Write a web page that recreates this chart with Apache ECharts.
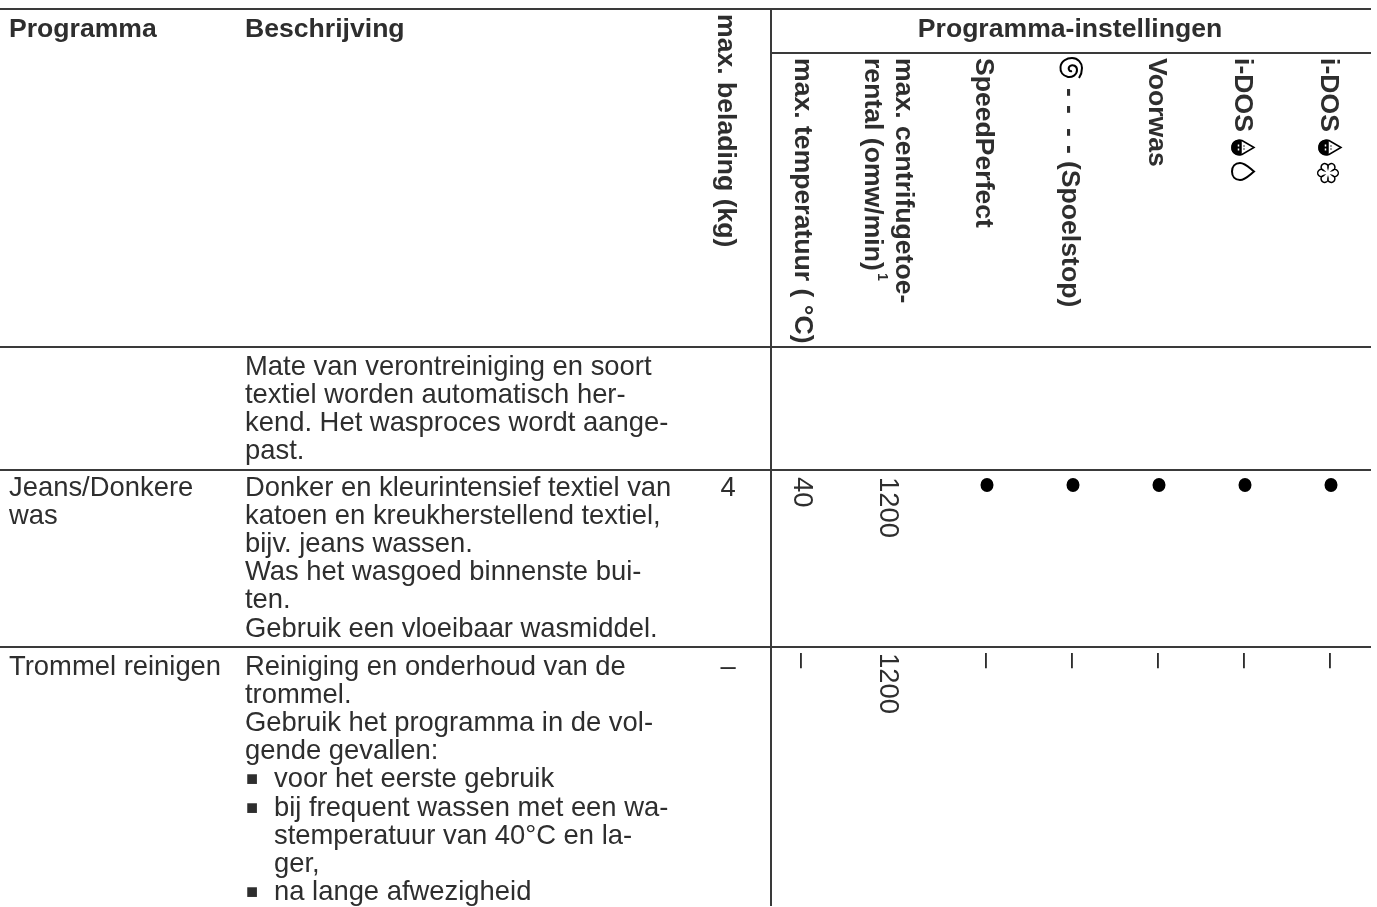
<!DOCTYPE html>
<html>
<head>
<meta charset="utf-8">
<title>Programma-instellingen</title>
<script src="https://cdn.jsdelivr.net/npm/echarts@6/dist/echarts.min.js"></script>
<style>
html, body { margin: 0; padding: 0; background: #fff; }
#chart { width: 1377px; height: 907px; }
</style>
</head>
<body>
<div id="chart"></div>
<script>
// table content
const headProgram = 'Programma'
const headDescription = 'Beschrijving'
const headLoad = 'max. belading (kg)'
const headSettings = 'Programma-instellingen'
const settingHeads = [
  ['max. temperatuur ( °C)'],
  ['max. centrifugetoe-', 'rental (omw/min)'],
  ['SpeedPerfect'],
  ['(Spoelstop)'],
  ['Voorwas'],
  ['i-DOS'],
  ['i-DOS']
]
const programNames = [[], ['Jeans/Donkere', 'was'], ['Trommel reinigen']]
const descriptions = [
  ['Mate van verontreiniging en soort', 'textiel worden automatisch her-', 'kend. Het wasproces wordt aange-', 'past.'],
  ['Donker en kleurintensief textiel van', 'katoen en kreukherstellend textiel,', 'bijv. jeans wassen.', 'Was het wasgoed binnenste bui-', 'ten.', 'Gebruik een vloeibaar wasmiddel.'],
  ['Reiniging en onderhoud van de', 'trommel.', 'Gebruik het programma in de vol-', 'gende gevallen:', '■ voor het eerste gebruik', '■ bij frequent wassen met een wa-', '  stemperatuur van 40°C en la-', '  ger,', '■ na lange afwezigheid']
]
const loads = ['', '4', '–']
const settingValues = [
  [],
  ['40', '1200', '●', '●', '●', '●', '●'],
  ['–', '1200', '–', '–', '–', '–', '–']
]

// layout, in page pixels
const colProgram = 9
const colDescription = 245
const colLoad = 728
const colRotated = [802, 888, 987, 1073, 1159, 1245, 1331]
const headRotated = [802, 0, 983, 1069, 1156, 1242, 1328]
const spoelDashes = [88, 105, 128, 145]
const rowText = [367, 488, 667]
const rowValue = [0, 477, 653]
const lineStep = 28.2
const ruleColor = '#3a3a3a'
const textColor = '#2e2e2e'
const bodyFont = '27.4px "Liberation Sans"'
const boldFont = 'bold 26.6px "Liberation Sans"'
const rules = [
  [0, 9, 1371, 9],
  [771, 53, 1371, 53],
  [0, 347, 1371, 347],
  [0, 470, 1371, 470],
  [0, 647, 1371, 647],
  [771, 9, 771, 906]
]

const textCells = []
const dots = []
const addText = (x, y, text, font, rotated, align) => {
  textCells.push({ value: [x, y], text, font, rotated, align })
}

addText(colProgram, 30, headProgram, boldFont)
addText(colDescription, 30, headDescription, boldFont)
addText(colLoad - 3, 14, headLoad, boldFont, true)
addText(1070, 30, headSettings, boldFont, false, 'center')
settingHeads.forEach((lines, i) => {
  if (lines.length === 2) {
    addText(903, 58, lines[0], boldFont, true)
    addText(872, 58, lines[1], boldFont, true)
    addText(882, 273, '1', 'bold 14px "Liberation Sans"', true)
  } else if (i === 3) {
    // Spoelstop starts under its spiral icon and dashes
    spoelDashes.forEach((y) => addText(headRotated[i], y, '-', boldFont, true))
    addText(headRotated[i], 161, lines[0], boldFont, true)
  } else {
    addText(headRotated[i], 58, lines[0], boldFont, true)
  }
})

descriptions.forEach((lines, r) => {
  lines.forEach((line, i) => {
    const y = rowText[r] + i * lineStep
    let text = line
    let x = colDescription
    if (line.startsWith('■ ')) {
      addText(x + 1, y, '■', '20px "Liberation Sans"')
      text = line.slice(2)
      x += 29
    } else if (line.startsWith('  ')) {
      text = line.slice(2)
      x += 29
    }
    addText(x, y, text, bodyFont)
  })
  programNames[r].forEach((name, i) => {
    addText(colProgram, rowText[r] + i * lineStep, name, bodyFont)
  })
  if (loads[r]) addText(colLoad, rowText[r], loads[r], bodyFont, false, 'center')
  settingValues[r].forEach((val, c) => {
    if (val === '●') dots.push([colRotated[c], rowValue[r] + 8])
    else addText(colRotated[c], rowValue[r], val, bodyFont, true)
  })
})

// icons in the header, drawn around (0,0)
const dropPath = 'M13 0 C8 -4 4 -8.5 -1 -8.5 C-6 -8.5 -9 -5 -9 0 C-9 5 -6 8.5 -1 8.5 C4 8.5 8 4 13 0 Z'
const flatDropPath = 'M13 0 L1 -7 C-5 -8.5 -9 -5 -9 0 C-9 5 -5 8.5 1 7 Z'
const halfDropPath = 'M0 -7 C-5 -8 -9 -5 -9 0 C-9 5 -5 8 0 7 Z'
const whiteMarks = 'M-2.5 -3 L-2.5 -1 M-2.5 1 L-2.5 3'
const blackMarks = 'M3 -2 L3 -1 M3 1 L3 2'
const spiralPath = 'M1 2 C-2 3 -3.5 -1 -1 -3 C2 -5 6 -3 6 1 C6 6 1 8.5 -3 8 C-8 7 -11 3 -10.5 -2 C-10 -8 -4 -11 1 -11 C7 -11 11 -6 11 -1 C11 3 10 6 8 9'
const flowerPath = 'M4.33 -2.5 A3.5 3.5 0 1 1 4.33 2.5 A3.5 3.5 0 1 1 0 5 A3.5 3.5 0 1 1 -4.33 2.5 A3.5 3.5 0 1 1 -4.33 -2.5 A3.5 3.5 0 1 1 0 -5 A3.5 3.5 0 1 1 4.33 -2.5 Z'
const icons = [
  { value: [1071, 69], paths: [{ d: spiralPath, fill: 'none', width: 2 }] },
  { value: [1241, 147.5], paths: [{ d: flatDropPath, fill: '#fff' }, { d: halfDropPath, fill: '#000' }, { d: whiteMarks, fill: 'none', stroke: '#fff' }, { d: blackMarks, fill: 'none' }] },
  { value: [1241, 171.5], paths: [{ d: dropPath, fill: '#fff', width: 2 }] },
  { value: [1328, 147.5], paths: [{ d: flatDropPath, fill: '#fff' }, { d: halfDropPath, fill: '#000' }, { d: whiteMarks, fill: 'none', stroke: '#fff' }, { d: blackMarks, fill: 'none' }] },
  { value: [1328, 173], paths: [{ d: flowerPath, fill: '#fff' }] }
]

const myChart = echarts.init(document.getElementById('chart'))
myChart.setOption({
  animation: false,
  grid: { left: 0, right: 0, top: 0, bottom: 0 },
  xAxis: { type: 'value', min: 0, max: 1377, show: false },
  yAxis: { type: 'value', min: 0, max: 907, inverse: true, show: false },
  series: [
    {
      type: 'custom',
      coordinateSystem: 'cartesian2d',
      clip: false,
      silent: true,
      data: rules,
      renderItem: (params, api) => {
        const a = api.coord([api.value(0), api.value(1)])
        const b = api.coord([api.value(2), api.value(3)])
        return {
          type: 'line',
          shape: { x1: a[0], y1: a[1], x2: b[0], y2: b[1] },
          style: { stroke: ruleColor, lineWidth: 2 }
        }
      }
    },
    {
      type: 'custom',
      coordinateSystem: 'cartesian2d',
      clip: false,
      silent: true,
      data: textCells,
      renderItem: (params, api) => {
        const cell = textCells[params.dataIndex]
        const p = api.coord(cell.value)
        return {
          type: 'text',
          x: p[0],
          y: p[1],
          rotation: cell.rotated ? -Math.PI / 2 : 0,
          style: {
            text: cell.text,
            font: cell.font,
            fill: textColor,
            align: cell.align || 'left',
            verticalAlign: 'middle'
          }
        }
      }
    },
    {
      type: 'scatter',
      silent: true,
      symbol: 'circle',
      symbolSize: [13, 14],
      itemStyle: { color: '#000', opacity: 1 },
      data: dots
    },
    {
      type: 'custom',
      coordinateSystem: 'cartesian2d',
      clip: false,
      silent: true,
      data: icons,
      renderItem: (params, api) => {
        const icon = icons[params.dataIndex]
        const p = api.coord(icon.value)
        return {
          type: 'group',
          x: p[0],
          y: p[1],
          children: icon.paths.map((part) => ({
            type: 'path',
            shape: { pathData: part.d },
            style: { fill: part.fill, stroke: part.stroke || '#000', lineWidth: part.width || 1.5 }
          }))
        }
      }
    }
  ]
})
</script>
</body>
</html>
